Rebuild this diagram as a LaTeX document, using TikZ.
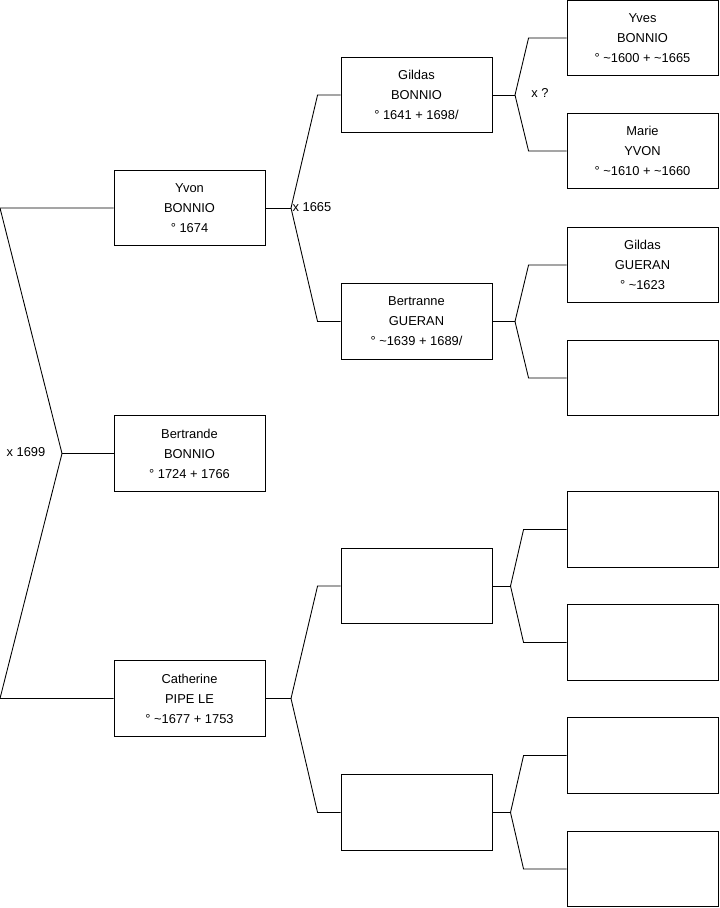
\documentclass[tikz,border=0pt]{standalone}
\usepackage{fontspec}
\setmainfont{Liberation Sans}
\usetikzlibrary{positioning,calc}

\begin{document}
\begin{tikzpicture}[x=0.03cm,y=-0.03cm,line width=0.75pt,
  every node/.style={font=\fontsize{11}{17}\selectfont},
  person/.style={draw,align=center,minimum width=4.53cm,minimum height=2.27cm,inner sep=0pt},
  mariage/.style={inner sep=1pt}]
\useasboundingbox (0,0) rectangle (719,908);
% generation 1
\node[person] (yvon) at (189.5,208) {Yvon\\BONNIO\\° 1674};
\node[person] (bertrande) at (189.5,453.5) {Bertrande\\BONNIO\\° 1724 + 1766};
\node[person] (catherine) at (189.5,698.5) {Catherine\\PIPE LE\\° \textasciitilde1677 + 1753};
% generation 2
\node[person] (gildasB) at (416.5,95) {Gildas\\BONNIO\\° 1641 + 1698/};
\node[person] (bertranne) at (416.5,321.5) {Bertranne\\GUERAN\\° \textasciitilde1639 + 1689/};
\node[person] (inconnuA) at (416.5,586) {};
\node[person] (inconnuB) at (416.5,812.5) {};
% generation 3
\node[person] (yves) at (642.5,38) {Yves\\BONNIO\\° \textasciitilde1600 + \textasciitilde1665};
\node[person] (marie) at (642.5,151) {Marie\\YVON\\° \textasciitilde1610 + \textasciitilde1660};
\node[person] (gildasG) at (642.5,265) {Gildas\\GUERAN\\° \textasciitilde1623};
\node[person] (inconnuC) at (642.5,378) {};
\node[person] (inconnuD) at (642.5,529.5) {};
\node[person] (inconnuE) at (642.5,642.5) {};
\node[person] (inconnuF) at (642.5,755.5) {};
\node[person] (inconnuG) at (642.5,869) {};
% fourches
\coordinate (r1) at (0,208);\coordinate (r2) at (0,698.5);
\coordinate (fr) at (62,453.5);
\coordinate (fy) at (291,208);\coordinate (fc) at (291,698.5);
\coordinate (fg) at (515,95);\coordinate (fb) at (515,321.5);
\coordinate (fa) at (510.5,586);\coordinate (fi) at (510.5,812.5);
\draw (yvon.west) -- (r1) -- (fr) -- (r2) -- (catherine.west);
\draw (fr) -- (bertrande.west);
\draw (yvon.east) -- (fy);
\draw (gildasB.west) -- ++(-23,0) -- (fy) -- ($(bertranne.west)+(-23,0)$) -- (bertranne.west);
\draw (catherine.east) -- (fc);
\draw (inconnuA.west) -- ++(-23,0) -- (fc) -- ($(inconnuB.west)+(-23,0)$) -- (inconnuB.west);
\draw (gildasB.east) -- (fg);
\draw (yves.west) -- ++(-38,0) -- (fg) -- ($(marie.west)+(-38,0)$) -- (marie.west);
\draw (bertranne.east) -- (fb);
\draw (gildasG.west) -- ++(-38,0) -- (fb) -- ($(inconnuC.west)+(-38,0)$) -- (inconnuC.west);
\draw (inconnuA.east) -- (fa);
\draw (inconnuD.west) -- ++(-43,0) -- (fa) -- ($(inconnuE.west)+(-43,0)$) -- (inconnuE.west);
\draw (inconnuB.east) -- (fi);
\draw (inconnuF.west) -- ++(-43,0) -- (fi) -- ($(inconnuG.west)+(-43,0)$) -- (inconnuG.west);
% mariages
\node[mariage] (m1699) at (26,452) {x 1699};
\node[mariage,anchor=west] (m1665) at (291,207) {x 1665};
\node[mariage] (m1) at (540,93) {x ?};
\end{tikzpicture}
\end{document}
